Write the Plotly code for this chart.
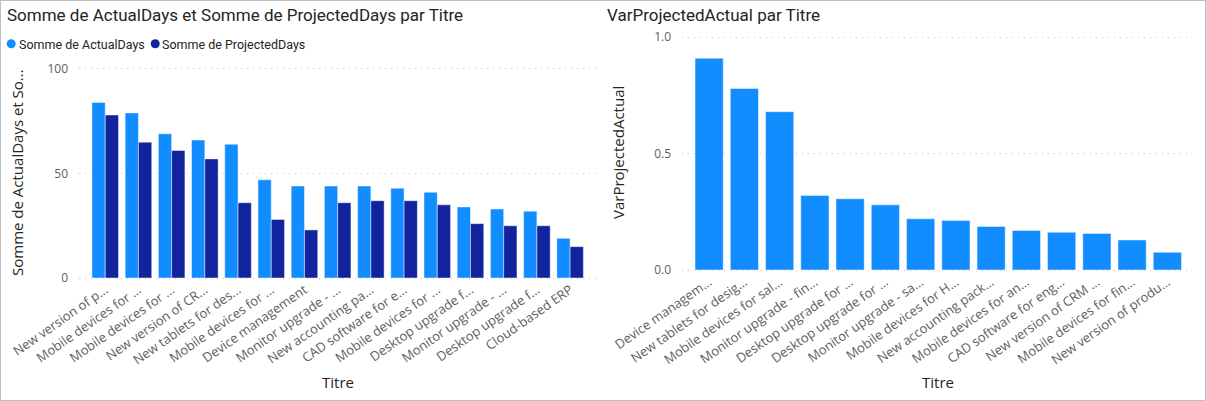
import plotly.graph_objects as go

W, H = 1206, 401

# ---------------- data ----------------
left_labels = [
    "New version of p...", "Mobile devices for ...", "Mobile devices for ...",
    "New version of CR...", "New tablets for des...", "Mobile devices for ...",
    "Device management", "Monitor upgrade - ...", "New accounting pa...",
    "CAD software for e...", "Mobile devices for ...", "Desktop upgrade f...",
    "Monitor upgrade - ...", "Desktop upgrade f...", "Cloud-based ERP",
]
actual_days = [84, 79, 69, 66, 64, 47, 44, 44, 44, 43, 41, 34, 33, 32, 19]
projected_days = [78, 65, 61, 57, 36, 28, 23, 36, 37, 37, 35, 26, 25, 25, 15]

right_labels = [
    "Device managem...", "New tablets for desig...", "Mobile devices for sal...",
    "Monitor upgrade - fin...", "Desktop upgrade for ...", "Desktop upgrade for ...",
    "Monitor upgrade - sa...", "Mobile devices for H...", "New accounting pack...",
    "Mobile devices for an...", "CAD software for eng...", "New version of CRM ...",
    "Mobile devices for fin...", "New version of produ...",
]
var_projected_actual = [0.91, 0.78, 0.68, 0.32, 0.306, 0.28, 0.22, 0.213,
                        0.187, 0.17, 0.162, 0.157, 0.129, 0.076]

left_yticks = [0, 50, 100]
right_yticks = [0.0, 0.5, 1.0]
right_yticktext = ["0.0", "0.5", "1.0"]

# ---------------- style ----------------
C_ACTUAL = "#118DFF"
C_PROJ = "#12239E"
TXT = "#252423"
TICK = "#605E5C"
GRID = "#C8C6C4"
FONT = "'Open Sans', Roboto, sans-serif"
LFONT = "Roboto, sans-serif"
TFONT = "Roboto, sans-serif"
GDASH = "1px,5px"


def px_x(p):
    return p / W


def px_y(p):
    return 1 - p / H


fig = go.Figure()

lx = list(range(len(left_labels)))
edge = dict(color="rgba(255,255,255,0.45)", width=1)
fig.add_trace(go.Bar(x=lx, y=actual_days, name="Somme de ActualDays",
                     marker=dict(color=C_ACTUAL, line=edge),
                     xaxis="x", yaxis="y", showlegend=False))
fig.add_trace(go.Bar(x=lx, y=projected_days, name="Somme de ProjectedDays",
                     marker=dict(color=C_PROJ, line=edge),
                     xaxis="x", yaxis="y", showlegend=False))

rx = list(range(len(right_labels)))
fig.add_trace(go.Bar(x=rx, y=var_projected_actual, name="VarProjectedActual",
                     marker=dict(color=C_ACTUAL, line=edge),
                     xaxis="x2", yaxis="y2", showlegend=False))

xtickfont = dict(family=FONT, size=13, color=TICK)
ytickfont = dict(family=FONT, size=12, color=TICK)

# small padding so that the edge grid lines (0 and max) are drawn
lpad = 0.5          # data units on left y axis (2.09 px / unit)
rpad = 0.005        # data units on right y axis (233 px / unit)

fig.update_layout(
    width=W, height=H, autosize=False,
    margin=dict(l=0, r=0, t=0, b=0, pad=0, autoexpand=False),
    paper_bgcolor="white", plot_bgcolor="white",
    barmode="group", bargap=0.2, bargroupgap=0.0,
    font=dict(family=FONT, color=TXT),
    showlegend=False,
    xaxis=dict(domain=[px_x(79), px_x(596)], range=[-0.79, 14.78],
               tickmode="array", tickvals=lx, ticktext=left_labels,
               tickangle=-35, tickfont=xtickfont, showgrid=False,
               zeroline=False, showline=False, ticks="", anchor="y",
               automargin=False),
    yaxis=dict(domain=[px_y(278 + lpad * 2.09), px_y(69 - lpad * 2.09)],
               range=[-lpad, 100 + lpad],
               tickmode="array", tickvals=left_yticks,
               tickfont=ytickfont, showgrid=True, gridcolor=GRID, griddash=GDASH,
               gridwidth=1, zeroline=False, showline=False, ticks="",
               ticklabelstandoff=10, anchor="x", automargin=False),
    xaxis2=dict(domain=[px_x(682), px_x(1191)], range=[-0.77, 13.67],
                tickmode="array", tickvals=rx, ticktext=right_labels,
                tickangle=-35, tickfont=xtickfont, showgrid=False,
                zeroline=False, showline=False, ticks="", anchor="y2",
                automargin=False),
    yaxis2=dict(domain=[px_y(270 + rpad * 233), px_y(37.3 - rpad * 233)],
                range=[-rpad, 1.0 + rpad],
                tickmode="array", tickvals=right_yticks, ticktext=right_yticktext,
                tickfont=ytickfont, showgrid=True, gridcolor=GRID, griddash=GDASH,
                gridwidth=1, zeroline=False, showline=False, ticks="",
                ticklabelstandoff=10, anchor="x2", automargin=False),
)

shapes = [
    dict(type="rect", xref="paper", yref="paper", x0=0, x1=1, y0=0, y1=1,
         line=dict(color="#BFBFBF", width=2), fillcolor="rgba(0,0,0,0)", layer="above"),
    dict(type="circle", xref="paper", yref="paper",
         x0=px_x(6.7), x1=px_x(15.7), y0=px_y(48.3), y1=px_y(39.3),
         fillcolor=C_ACTUAL, line=dict(width=0)),
    dict(type="circle", xref="paper", yref="paper",
         x0=px_x(150.7), x1=px_x(159.7), y0=px_y(48.3), y1=px_y(39.3),
         fillcolor=C_PROJ, line=dict(width=0)),
]
fig.update_layout(shapes=shapes)


def note(text, x, y, size, xanchor="left", angle=0, family=FONT):
    return dict(text=text, x=px_x(x), y=px_y(y), xref="paper", yref="paper",
                xanchor=xanchor, yanchor="middle", textangle=angle,
                showarrow=False, font=dict(family=family, size=size, color=TXT))


ann = [
    note("Somme de ActualDays et Somme de ProjectedDays par Titre", 5, 15, 17, family=TFONT),
    note("VarProjectedActual par Titre", 605, 15, 17, family=TFONT),
    note("Somme de ActualDays", 17, 44, 12.5, family=LFONT),
    note("Somme de ProjectedDays", 160, 44, 12.5, family=LFONT),
    note("Somme de ActualDays et So...", 17, 173, 15, xanchor="center", angle=-90),
    note("VarProjectedActual", 618, 153, 15, xanchor="center", angle=-90),
    note("Titre", 338, 382, 15, xanchor="center"),
    note("Titre", 938, 382, 15, xanchor="center"),
]
fig.update_layout(annotations=ann)

fig.write_html("out.html")
